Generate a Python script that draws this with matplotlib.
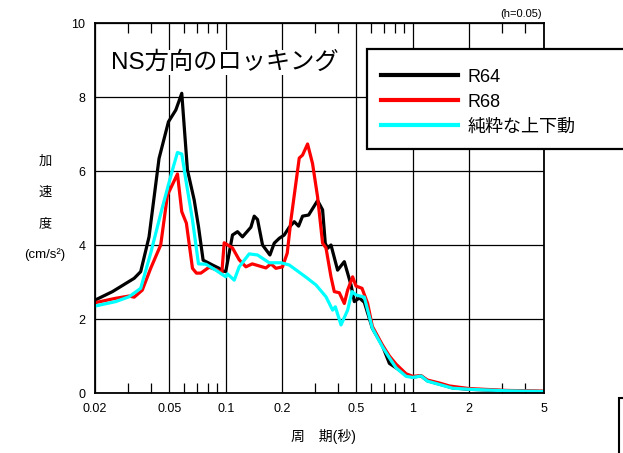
"""
Response spectrum chart: NS rocking vs pure vertical motion.
"""
import matplotlib
matplotlib.use("Agg")
import matplotlib.pyplot as plt
from matplotlib.patches import Rectangle
from matplotlib.ticker import FixedLocator, NullFormatter

plt.rcParams['font.family'] = ['Liberation Sans', 'Noto Sans CJK JP', 'DejaVu Sans']

# period (s) and acceleration values
r64_T = [0.020, 0.0248, 0.0292, 0.0324, 0.0351, 0.0389, 0.044, 0.0494, 0.0541,
         0.0582, 0.0624, 0.0678, 0.0715, 0.0757, 0.0849, 0.0922, 0.096, 0.1,
         0.1087, 0.1156, 0.1229, 0.1363, 0.142, 0.1479, 0.1573, 0.1723, 0.1817,
         0.1932, 0.2054, 0.2186, 0.2325, 0.2452, 0.2575, 0.2774, 0.3098, 0.3295,
         0.3405, 0.3504, 0.3654, 0.3964, 0.4305, 0.4676, 0.487, 0.518, 0.5508,
         0.608, 0.6878, 0.75, 0.814, 0.921, 1.0, 1.108, 1.198, 1.388, 1.63, 2.0,
         3.16, 5.0]
r64_a = [2.51, 2.74, 2.96, 3.10, 3.28, 4.22, 6.34, 7.33, 7.65,
         8.10, 6.03, 5.22, 4.50, 3.59, 3.46, 3.37, 3.30, 3.28,
         4.27, 4.36, 4.22, 4.48, 4.78, 4.69, 4.00, 3.73, 4.05,
         4.18, 4.27, 4.48, 4.63, 4.51, 4.78, 4.81, 5.20, 4.95,
         4.05, 3.91, 4.00, 3.32, 3.55, 2.92, 2.47, 2.57, 2.45,
         1.75, 1.28, 0.80, 0.68, 0.50, 0.43, 0.46, 0.33, 0.24, 0.14, 0.10,
         0.06, 0.04]

r68_T = [0.020, 0.0258, 0.0304, 0.0324, 0.0358, 0.0397, 0.0449, 0.0488, 0.0552,
         0.0582, 0.0616, 0.0664, 0.0697, 0.0736, 0.0815, 0.0903, 0.0953, 0.0981,
         0.1087, 0.118, 0.1282, 0.1386, 0.164, 0.1744, 0.1855, 0.2012, 0.2132,
         0.2232, 0.2472, 0.2575, 0.2739, 0.2912, 0.3098, 0.3295, 0.3436, 0.3654,
         0.3805, 0.4047, 0.4305, 0.4484, 0.4769, 0.4972, 0.5353, 0.5737, 0.608,
         0.6878, 0.75, 0.814, 0.921, 1.0, 1.108, 1.198, 1.388, 1.57, 2.0, 3.16, 5.0]
r68_a = [2.44, 2.56, 2.62, 2.59, 2.78, 3.37, 4.00, 5.35, 5.92,
         4.90, 4.59, 3.37, 3.24, 3.24, 3.40, 3.32, 3.24, 4.06,
         3.92, 3.60, 3.41, 3.49, 3.38, 3.49, 3.37, 3.41, 3.78,
         4.68, 6.35, 6.43, 6.73, 6.20, 5.30, 4.05, 3.92, 3.14,
         2.74, 2.71, 2.42, 2.78, 3.14, 2.89, 2.83, 2.42, 1.80,
         1.30, 1.00, 0.78, 0.52, 0.45, 0.47, 0.35, 0.27, 0.19, 0.12, 0.07, 0.05]

pure_T = [0.020, 0.0258, 0.0304, 0.0351, 0.0397, 0.0459, 0.0519, 0.0552, 0.0582,
          0.0612, 0.0664, 0.0715, 0.0783, 0.0885, 0.1, 0.1021, 0.111, 0.118,
          0.1335, 0.1479, 0.1708, 0.1973, 0.2186, 0.2686, 0.3038, 0.3436, 0.3728,
          0.3854, 0.4134, 0.4484, 0.4734, 0.4972, 0.5508, 0.608, 0.6878, 0.75,
          0.814, 0.921, 1.0, 1.108, 1.198, 1.388, 1.63, 2.0, 3.16, 5.0]
pure_a = [2.35, 2.47, 2.60, 2.83, 3.78, 5.03, 6.03, 6.50, 6.46,
          5.76, 4.68, 3.49, 3.48, 3.32, 3.14, 3.22, 3.05, 3.41,
          3.76, 3.73, 3.52, 3.52, 3.46, 3.13, 2.92, 2.60, 2.24,
          2.33, 1.84, 2.24, 2.74, 2.65, 2.59, 1.75, 1.25, 0.95,
          0.68, 0.45, 0.42, 0.46, 0.32, 0.23, 0.13, 0.10, 0.06, 0.04]

series_labels = ['R64', 'R68', '純粋な上下動']
series_colors = ['black', '#ff0000', '#00ffff']

x_ticks = [0.02, 0.05, 0.1, 0.2, 0.5, 1, 2, 5]
x_ticklabels = ['0.02', '0.05', '0.1', '0.2', '0.5', '1', '2', '5']
x_minor = [0.03, 0.04, 0.06, 0.07, 0.08, 0.09, 0.3, 0.4, 0.6, 0.7, 0.8, 0.9, 3, 4]
y_ticks = [0, 2, 4, 6, 8, 10]

W, H = 623, 453
fig = plt.figure(figsize=(W / 100, H / 100), dpi=100)
ax = fig.add_axes([95 / W, (H - 393) / H, 448.5 / W, 370 / H])

lines = []
for T, a, lab, col in zip([r64_T, r68_T, pure_T], [r64_a, r68_a, pure_a],
                          series_labels, series_colors):
    ln, = ax.plot(T, a, color=col, lw=2.3, label=lab)
    lines.append(ln)

ax.set_xscale('log')
ax.set_xlim(0.02, 5)
ax.set_ylim(0, 10)
ax.set_xticks(x_ticks)
ax.set_xticklabels(x_ticklabels)
ax.xaxis.set_minor_locator(FixedLocator(x_minor))
ax.xaxis.set_minor_formatter(NullFormatter())
ax.set_yticks(y_ticks)
ax.grid(True, which='major', color='black', lw=0.9)
ax.tick_params(which='both', direction='in', top=True, right=False,
               labelsize=9, colors='black')
ax.tick_params(which='major', length=0, pad=7)
ax.tick_params(which='minor', length=7, width=0.9)
for sp in ax.spines.values():
    sp.set_linewidth(1.3)

ax.text(0.036, 0.893, 'NS方向のロッキング', transform=ax.transAxes,
        fontsize=17.5, va='center', ha='left',
        bbox=dict(facecolor='white', edgecolor='none', pad=1))

fig.text(542 / W, 1 - 14 / H, '(h=0.05)', fontsize=8, ha='right', va='center')

# y label as stacked characters
for i, s in enumerate(['加', '速', '度', '(cm/s²)']):
    fig.text(45 / W, 1 - (162 + 31 * i) / H, s, fontsize=9.5,
             ha='center', va='center')
fig.text(323 / W, 1 - 437 / H, '周　期(秒)', fontsize=10, ha='center', va='center')

# legend box drawn separately so it can run off the right edge
fig.add_artist(Rectangle((367 / W, 1 - 149 / H), 0.6, 100 / H,
                         transform=fig.transFigure, facecolor='white',
                         edgecolor='black', lw=1.6, zorder=3))
leg = fig.legend(handles=lines, loc='upper left', frameon=False,
                 bbox_to_anchor=(367 / W, 1 - 55 / H),
                 fontsize=13, handlelength=4.3, handletextpad=0.5,
                 borderpad=0.75, labelspacing=0.45, borderaxespad=0)
leg.set_zorder(4)
for h in leg.get_lines():
    h.set_linewidth(3)

fig.add_artist(Rectangle((619 / W, -0.1), 0.2, 0.1 + (H - 398) / H,
                         transform=fig.transFigure, fill=False, lw=1.5,
                         edgecolor='black'))

fig.savefig('out.png', dpi=100)
